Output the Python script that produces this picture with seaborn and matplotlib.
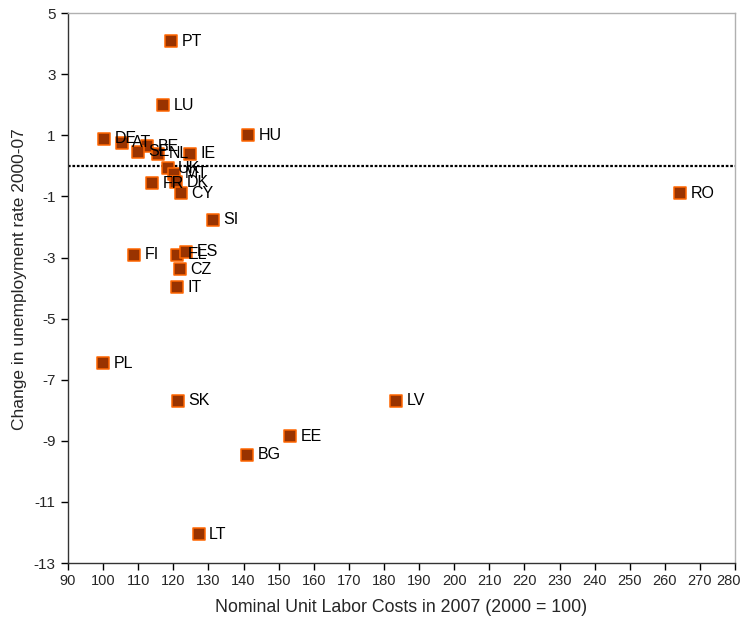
import matplotlib
matplotlib.use("Agg")
import matplotlib.pyplot as plt
import matplotlib.transforms as mtransforms
import seaborn as sns
import pandas as pd

countries = ["PT", "LU", "HU", "DE", "AT", "BE", "SE", "NL", "IE", "UK", "MT", "DK",
             "FR", "CY", "RO", "SI", "FI", "EL", "ES", "CZ", "IT", "PL", "SK", "LV",
             "EE", "BG", "LT"]
ulc = [119.3, 117.2, 141.3, 100.3, 105.3, 112.6, 110.0, 115.7, 124.8, 118.4, 120.2, 120.8,
       114.0, 122.2, 264.4, 131.3, 108.8, 121.1, 123.6, 121.9, 121.1, 100.1, 121.4, 183.4,
       153.2, 141.1, 127.2]
unemp = [4.08, 1.99, 1.0, 0.89, 0.75, 0.65, 0.47, 0.4, 0.39, -0.07, -0.25, -0.53,
         -0.57, -0.9, -0.89, -1.77, -2.9, -2.9, -2.81, -3.38, -3.98, -6.46, -7.69, -7.69,
         -8.85, -9.46, -12.05]

xticks = list(range(90, 281, 10))
yticks = list(range(-13, 6, 2))

df = pd.DataFrame({"country": countries, "ulc": ulc, "unemp": unemp})

sns.set_theme(style="white")
plt.rcParams["font.family"] = ["Liberation Sans", "DejaVu Sans"]

fig = plt.figure(figsize=(7.44, 6.27), dpi=100)
ax = fig.add_axes([0.0914, 0.102, 0.8966, 0.877])

ax.axhline(0, color="black", linestyle=(0, (1.2, 0.8)), lw=1.6, zorder=1)

sns.scatterplot(data=df, x="ulc", y="unemp", marker="s", s=85, color="#993300",
                edgecolor="#FF6600", linewidth=1.1, ax=ax, zorder=3, legend=False)

for c, xv, yv in zip(countries, ulc, unemp):
    ax.annotate(c, (xv, yv), xytext=(7.5, 0), textcoords="offset points",
                va="center", ha="left", fontsize=11.5, color="black", zorder=4)

ax.set_xlim(90, 280)
ax.set_ylim(-13, 5)
ax.set_xticks(xticks)
ax.set_yticks(yticks)
ax.set_xticklabels([str(t) for t in xticks], fontsize=10.5)
ax.set_yticklabels([str(t) for t in yticks], fontsize=11)
ax.tick_params(axis="both", which="both", direction="out", length=5, width=1,
               color="black", bottom=True, left=True, pad=4)
ax.tick_params(axis="x", pad=3)

last = ax.get_xticklabels()[-1]
last.set_horizontalalignment("right")
last.set_transform(mtransforms.offset_copy(last.get_transform(), fig=fig, x=6, y=0, units="dots"))

for side in ["left", "bottom"]:
    ax.spines[side].set_color("#333333")
    ax.spines[side].set_linewidth(1.0)
for side in ["top", "right"]:
    ax.spines[side].set_color("#b0b0b0")
    ax.spines[side].set_linewidth(1.0)

ax.set_xlabel("Nominal Unit Labor Costs in 2007 (2000 = 100)", fontsize=12.8, labelpad=8)
ax.set_ylabel("Change in unemployment rate 2000-07", fontsize=12.5)
ax.yaxis.set_label_coords(-0.062, 0.516)

fig.savefig("out.png", dpi=100, facecolor="white")
